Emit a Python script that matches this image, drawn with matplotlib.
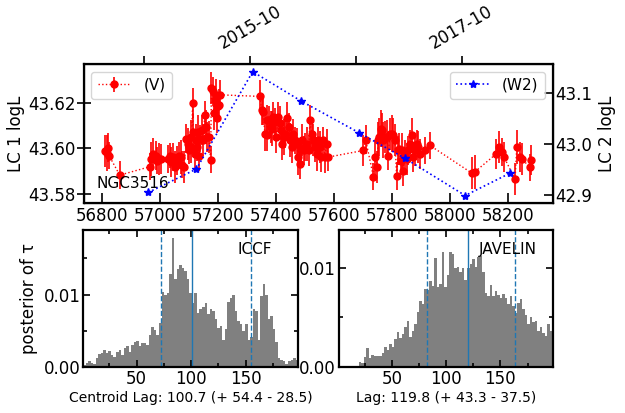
"""NGC3516 light curves and lag posteriors (ICCF / JAVELIN)."""

import numpy as np
import matplotlib
matplotlib.use("Agg")
import matplotlib.pyplot as plt

# light curve 1 (V band)
v_mjd = [56810, 56818, 56822, 56825, 56862,
         56966, 56971, 56977, 56986, 56991, 56997, 57003,
         57029, 57034, 57038, 57046, 57052, 57060, 57067, 57072, 57078, 57083,
         57092, 57098, 57101, 57106, 57109, 57113, 57115, 57121, 57124, 57129,
         57132, 57136, 57140, 57144, 57149, 57155, 57159, 57163, 57169, 57175,
         57178, 57182, 57186, 57190, 57193, 57198, 57201, 57205, 57207,
         57345, 57351, 57356, 57362, 57368, 57371, 57377, 57382, 57387, 57391,
         57397, 57402, 57408, 57414, 57417, 57422, 57428, 57433, 57439, 57445,
         57448, 57454, 57460, 57466, 57471, 57477, 57483, 57485, 57491, 57497,
         57502, 57508, 57513, 57517, 57523, 57529, 57534, 57540, 57546, 57552,
         57557, 57563, 57569, 57575, 57580,
         57701, 57709, 57736, 57741, 57747, 57753, 57756, 57762, 57767, 57770,
         57776, 57782, 57787, 57793, 57799, 57805, 57810, 57816, 57822, 57825,
         57830, 57834, 57839, 57845, 57851, 57856, 57862, 57868, 57874, 57879,
         57885, 57891, 57897, 57914, 57931,
         58075, 58086, 58159, 58168, 58178, 58186, 58224, 58230, 58241, 58247,
         58276, 58279]
v_logl = [43.5988, 43.5980, 43.6004, 43.5969, 43.5883,
          43.5920, 43.5954, 43.5976, 43.5969, 43.5947, 43.5954, 43.5954,
          43.5954, 43.5969, 43.5940, 43.5962, 43.5920, 43.5947, 43.5969, 43.5962, 43.5929, 43.5917,
          43.6043, 43.6021, 43.5991, 43.6050, 43.6006, 43.6198, 43.6073, 43.5976, 43.6036, 43.6006,
          43.6073, 43.5969, 43.6043, 43.6080, 43.6036, 43.6147, 43.6095, 43.6050, 43.6050, 43.5951,
          43.6265, 43.6250, 43.6154, 43.6213, 43.6235, 43.6132, 43.6184, 43.6191, 43.6235,
          43.6228, 43.6169, 43.6161, 43.6065, 43.6058, 43.6124, 43.6124, 43.6095, 43.6087, 43.6139,
          43.6117, 43.6050, 43.6139, 43.6110, 43.6080, 43.6021, 43.6050, 43.6065, 43.6132, 43.6095,
          43.6036, 43.6006, 43.6065, 43.6036, 43.6021, 43.5962, 43.5932, 43.5991, 43.6036, 43.5991,
          43.6006, 43.6021, 43.5991, 43.6124, 43.6065, 43.6036, 43.6006, 43.5976, 43.6036, 43.6006,
          43.5962, 43.6036, 43.5962, 43.6021, 43.5962,
          43.5991, 43.6039, 43.5876, 43.5962, 43.5917, 43.6036, 43.6050, 43.6087, 43.6080, 43.6036,
          43.6050, 43.6050, 43.5969, 43.6065, 43.6065, 43.6058, 43.6036, 43.5880, 43.5991, 43.5999,
          43.5947, 43.5991, 43.5902, 43.5976, 43.5954, 43.5991, 43.6021, 43.6058, 43.5962, 43.5991,
          43.6021, 43.6006, 43.5976, 43.5991, 43.6013,
          43.5892, 43.5898, 43.5976, 43.6006, 43.5984, 43.5962, 43.5865, 43.6006, 43.5962, 43.5954,
          43.5917, 43.5950]
v_err = [0.0070, 0.0080, 0.0065, 0.0060, 0.0060,
         0.0060, 0.0075, 0.0070, 0.0065, 0.0060, 0.0070, 0.0065,
         0.0060, 0.0055, 0.0065, 0.0060, 0.0070, 0.0065, 0.0060, 0.0075, 0.0060, 0.0070,
         0.0065, 0.0070, 0.0060, 0.0075, 0.0070, 0.0065, 0.0080, 0.0065, 0.0070, 0.0060,
         0.0075, 0.0070, 0.0060, 0.0065, 0.0070, 0.0060, 0.0075, 0.0065, 0.0070, 0.0060,
         0.0070, 0.0065, 0.0075, 0.0060, 0.0070, 0.0065, 0.0060, 0.0070, 0.0065,
         0.0070, 0.0065, 0.0060, 0.0075, 0.0070, 0.0065, 0.0060, 0.0070, 0.0075, 0.0065,
         0.0060, 0.0070, 0.0065, 0.0075, 0.0060, 0.0070, 0.0080, 0.0065, 0.0070, 0.0060,
         0.0075, 0.0070, 0.0065, 0.0060, 0.0070, 0.0080, 0.0065, 0.0060, 0.0070, 0.0065,
         0.0060, 0.0075, 0.0070, 0.0065, 0.0060, 0.0070, 0.0065, 0.0075, 0.0060, 0.0070,
         0.0065, 0.0060, 0.0070, 0.0065, 0.0060,
         0.0070, 0.0065, 0.0060, 0.0075, 0.0070, 0.0080, 0.0085, 0.0080, 0.0075, 0.0080,
         0.0070, 0.0075, 0.0065, 0.0070, 0.0080, 0.0075, 0.0070, 0.0060, 0.0065, 0.0070,
         0.0060, 0.0075, 0.0065, 0.0060, 0.0070, 0.0065, 0.0060, 0.0075, 0.0065, 0.0070,
         0.0060, 0.0070, 0.0065, 0.0060, 0.0060,
         0.0070, 0.0075, 0.0065, 0.0070, 0.0060, 0.0065, 0.0070, 0.0075, 0.0065, 0.0070,
         0.0060, 0.0065]

# light curve 2 (W2 band)
w2_mjd = [56960, 57126, 57320, 57485, 57687, 57845, 58052, 58207]
w2_logl = [42.905, 42.951, 43.142, 43.085, 43.022, 42.972, 42.899, 42.943]

# top date axis
date_ticks = [56945, 57310, 57675, 58040]
date_labels = ["", "2015-10", "", "2017-10"]

# lag posteriors, bins spread evenly over the lag range
lag_range = (1, 198)
iccf_hist = [0.0003, 0.0006, 0.0009, 0.0006, 0.0004, 0.0012, 0.0018, 0.0019, 0.0023, 0.0020,
             0.0022, 0.0017, 0.0014, 0.0021, 0.0024, 0.0017, 0.0026, 0.0029, 0.0021, 0.0030,
             0.0034, 0.0036, 0.0029, 0.0033, 0.0033, 0.0031, 0.0044, 0.0056, 0.0051, 0.0045,
             0.0061, 0.0103, 0.0099, 0.0102, 0.0128, 0.0178, 0.0121, 0.0135, 0.0141, 0.0137,
             0.0132, 0.0121, 0.0102, 0.0089, 0.0102, 0.0074, 0.0080, 0.0083, 0.0089, 0.0073,
             0.0080, 0.0077, 0.0066, 0.0054, 0.0057, 0.0037, 0.0053, 0.0090, 0.0095, 0.0100,
             0.0077, 0.0064, 0.0060, 0.0050, 0.0060, 0.0037, 0.0041, 0.0080, 0.0077, 0.0037,
             0.0098, 0.0114, 0.0100, 0.0067, 0.0071, 0.0053, 0.0035, 0.0012, 0.0010, 0.0009,
             0.0005, 0.0008, 0.0010, 0.0012, 0.0010]
javelin_hist = [0.0, 0.0, 0.0, 0.0, 0.0, 0.0, 0.0, 0.0,
                0.00056, 0.00046, 0.00105, 0.00194, 0.00089, 0.00122, 0.00112, 0.00115,
                0.00112, 0.00138, 0.00204, 0.00171, 0.00237, 0.00204, 0.00286, 0.00352,
                0.00296, 0.00329, 0.00401, 0.00467, 0.00303, 0.00359, 0.00434, 0.00559,
                0.00664, 0.00632, 0.00789, 0.00780, 0.00868, 0.00813, 0.01100, 0.00803,
                0.00836, 0.01158, 0.00803, 0.00928, 0.01158, 0.01141, 0.00993, 0.01010,
                0.00960, 0.00993, 0.00878, 0.00993, 0.01043, 0.01092, 0.01010, 0.01109,
                0.01118, 0.00960, 0.00747, 0.00714, 0.00829, 0.00714, 0.00763, 0.00730,
                0.00697, 0.00737, 0.00691, 0.00632, 0.00714, 0.00615, 0.00549, 0.00648,
                0.00681, 0.00582, 0.00526, 0.00434, 0.00500, 0.00451, 0.00467, 0.00368,
                0.00401, 0.00342, 0.00309, 0.00434, 0.00368]

iccf_lag = (100.7, 54.4, 28.5)
javelin_lag = (119.8, 43.3, 37.5)

plt.rcParams["font.family"] = ["DejaVu Sans"]

fig = plt.figure(figsize=(6.25, 4.13), dpi=100)

# ---- light curves ----
ax = fig.add_axes([0.134, 0.508, 0.750, 0.337])
ax.errorbar(v_mjd, v_logl, yerr=v_err, fmt="o:", color="red", ms=5,
            elinewidth=1.2, lw=1, label="(V)")
ax.set_xlim(56738, 58353)
ax.set_ylim(43.576, 43.637)
ax.set_xticks([56800, 57000, 57200, 57400, 57600, 57800, 58000, 58200])
ax.set_yticks([43.58, 43.60, 43.62])
ax.yaxis.set_major_formatter(matplotlib.ticker.FormatStrFormatter("%.2f"))
ax.set_ylabel("LC 1 logL", fontsize=12, labelpad=2)
ax.tick_params(axis="x", direction="in", length=7, width=1.2, labelsize=12, pad=3)
ax.tick_params(axis="y", direction="inout", length=10, width=1.2, labelsize=12, pad=1)
ax.text(0.028, 0.14, "NGC3516", transform=ax.transAxes, fontsize=11, va="center")
ax.legend(loc="upper left", fontsize=11, handlelength=2.2)
for sp in ax.spines.values():
    sp.set_linewidth(1.6)

ax2 = ax.twinx()
ax2.plot(w2_mjd, w2_logl, "*:", color="blue", ms=6, lw=1.2, label="(W2)")
ax2.set_ylim(42.884, 43.157)
ax2.set_yticks([42.9, 43.0, 43.1])
ax2.yaxis.set_major_formatter(matplotlib.ticker.FormatStrFormatter("%.1f"))
ax2.set_ylabel("LC 2 logL", fontsize=12)
ax2.tick_params(axis="y", direction="in", length=6.5, width=1.2, labelsize=12, pad=2)
ax2.legend(loc="upper right", fontsize=11, handlelength=2.2)

ax3 = ax.twiny()
ax3.set_xlim(ax.get_xlim())
ax3.set_xticks(date_ticks)
ax3.set_xticklabels(date_labels, rotation=30, fontsize=12)
ax3.tick_params(axis="x", direction="out", length=6, width=1.2, pad=2)

# ---- lag posteriors ----
def lag_panel(rect, heights, lag, label, xlabel):
    hx = fig.add_axes(rect)
    edges = np.linspace(lag_range[0], lag_range[1], len(heights) + 1)
    hx.bar(edges[:-1], heights, width=np.diff(edges), align="edge",
           color="gray", linewidth=0)
    center, up, low = lag
    hx.axvline(center, color="C0", lw=1)
    hx.axvline(center - low, color="C0", lw=1, ls="--")
    hx.axvline(center + up, color="C0", lw=1, ls="--")
    hx.set_xlim(lag_range)
    hx.set_xticks([50, 100, 150])
    hx.set_xticks([25, 75, 125, 175], minor=True)
    hx.set_yticks([0.0, 0.01])
    hx.set_yticks([0.005, 0.015], minor=True)
    hx.yaxis.set_major_formatter(matplotlib.ticker.FormatStrFormatter("%.2f"))
    hx.tick_params(which="both", direction="in", top=True, right=True,
                   width=1.2, labelsize=12, pad=2)
    hx.tick_params(which="major", length=5)
    hx.tick_params(which="minor", length=3)
    hx.set_xlabel(xlabel, fontsize=10, labelpad=2)
    hx.text(0.72, 0.86, label, transform=hx.transAxes, fontsize=11, va="center")
    for sp in hx.spines.values():
        sp.set_linewidth(1.6)
    return hx

h1 = lag_panel([0.133, 0.111, 0.344, 0.332], iccf_hist, iccf_lag, "ICCF",
               "Centroid Lag: %.1f (+ %.1f - %.1f)" % iccf_lag)
h1.set_ylim(0, 0.0189)
h1.set_ylabel("posterior of \u03c4", fontsize=12)
h2 = lag_panel([0.542, 0.111, 0.342, 0.332], javelin_hist, javelin_lag, "JAVELIN",
               "Lag: %.1f (+ %.1f - %.1f)" % javelin_lag)
h2.set_ylim(0, 0.0138)
h2.texts[0].set_position((0.655, 0.86))

fig.savefig("out.png", dpi=100)
